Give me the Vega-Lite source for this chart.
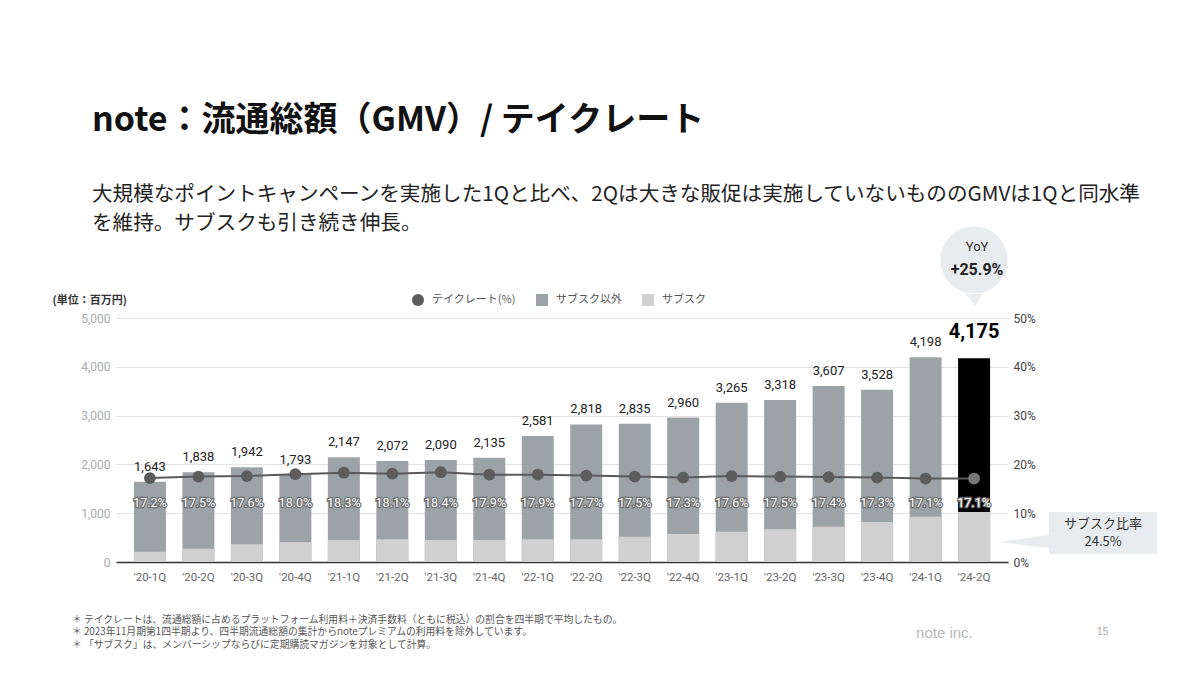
{
  "$schema": "https://vega.github.io/schema/vega-lite/v6.json",
  "width": 892,
  "height": 244,
  "autosize": {"type": "none"},
  "padding": {"left": 116, "top": 318, "right": 192, "bottom": 111},
  "background": "white",
  "title": {
    "text": "note：流通総額（GMV）/ テイクレート",
    "subtitle": [
      "大規模なポイントキャンペーンを実施した1Qと比べ、2Qは大きな販促は実施していないもののGMVは1Qと同水準",
      "を維持。サブスクも引き続き伸長。"
    ],
    "anchor": "start",
    "frame": "group",
    "dx": -24,
    "offset": -8,
    "font": "Noto Sans CJK JP",
    "fontSize": 34,
    "fontWeight": "bold",
    "color": "#111111",
    "subtitleFont": "Noto Sans CJK JP",
    "subtitleFontSize": 20.6,
    "subtitleColor": "#222222",
    "subtitleLineHeight": 29,
    "subtitlePadding": 47
  },
  "data": {
    "values": [
      {"q": "'20-1Q", "gmv": 1643, "sub": 211, "rate": 0.172},
      {"q": "'20-2Q", "gmv": 1838, "sub": 273, "rate": 0.175},
      {"q": "'20-3Q", "gmv": 1942, "sub": 363, "rate": 0.176},
      {"q": "'20-4Q", "gmv": 1793, "sub": 404, "rate": 0.180},
      {"q": "'21-1Q", "gmv": 2147, "sub": 451, "rate": 0.183},
      {"q": "'21-2Q", "gmv": 2072, "sub": 465, "rate": 0.181},
      {"q": "'21-3Q", "gmv": 2090, "sub": 451, "rate": 0.184},
      {"q": "'21-4Q", "gmv": 2135, "sub": 451, "rate": 0.179},
      {"q": "'22-1Q", "gmv": 2581, "sub": 465, "rate": 0.179},
      {"q": "'22-2Q", "gmv": 2818, "sub": 465, "rate": 0.177},
      {"q": "'22-3Q", "gmv": 2835, "sub": 519, "rate": 0.175},
      {"q": "'22-4Q", "gmv": 2960, "sub": 574, "rate": 0.173},
      {"q": "'23-1Q", "gmv": 3265, "sub": 622, "rate": 0.176},
      {"q": "'23-2Q", "gmv": 3318, "sub": 670, "rate": 0.175},
      {"q": "'23-3Q", "gmv": 3607, "sub": 724, "rate": 0.174},
      {"q": "'23-4Q", "gmv": 3528, "sub": 820, "rate": 0.173},
      {"q": "'24-1Q", "gmv": 4198, "sub": 929, "rate": 0.171},
      {"q": "'24-2Q", "gmv": 4175, "sub": 1023, "rate": 0.171}
    ]
  },
  "encoding": {
    "x": {
      "field": "q",
      "type": "ordinal",
      "sort": null,
      "scale": {"paddingInner": 0.34, "paddingOuter": 0.37},
      "axis": {
        "title": null,
        "labelAngle": 0,
        "labelColor": "#666666",
        "labelFontSize": 11.5,
        "labelFont": "Roboto",
        "labelPadding": 9,
        "ticks": false,
        "domainColor": "#333333",
        "domainWidth": 1.5,
        "grid": false
      }
    }
  },
  "layer": [
    {
      "layer": [
        {
          "mark": {"type": "bar"},
          "encoding": {
            "y": {
              "field": "gmv",
              "type": "quantitative",
              "scale": {"domain": [0, 5000], "nice": false},
              "axis": {
                "title": "(単位：百万円)",
                "titleAngle": 0,
                "titleAlign": "left",
                "titleBaseline": "middle",
                "titleX": -64,
                "titleY": -18,
                "titleFont": "Noto Sans CJK JP",
                "titleFontSize": 11,
                "titleFontWeight": "bold",
                "titleColor": "#333333",
                "values": [0, 1000, 2000, 3000, 4000, 5000],
                "format": ",.0f",
                "labelColor": "#aaaaaa",
                "labelFontSize": 12,
                "labelFont": "Roboto",
                "labelPadding": 6,
                "domain": false,
                "ticks": false,
                "grid": true,
                "gridColor": "#e2e2e2"
              }
            },
            "color": {
              "condition": {"test": "datum.q === \"'24-2Q\"", "value": "#000000"},
              "datum": "サブスク以外",
              "scale": {
                "domain": ["テイクレート(%)", "サブスク以外", "サブスク"],
                "range": ["#5c5c5c", "#9ba3a7", "#d0d0d0"]
              },
              "legend": {
                "title": null,
                "orient": "none",
                "legendX": 296,
                "legendY": -24,
                "direction": "horizontal",
                "padding": 0,
                "symbolType": "square",
                "symbolSize": 144,
                "symbolStrokeWidth": 0,
                "labelFont": "Noto Sans CJK JP",
                "labelFontSize": 11,
                "labelColor": "#555555",
                "labelOffset": 8,
                "columnPadding": 20,
                "encode": {
                  "symbols": {
                    "update": {
                      "shape": {"signal": "datum.value === 'テイクレート(%)' ? 'circle' : 'square'"}
                    }
                  }
                }
              }
            }
          }
        },
        {
          "mark": {"type": "bar"},
          "encoding": {
            "y": {"field": "sub", "type": "quantitative"},
            "color": {"datum": "サブスク"}
          }
        },
        {
          "transform": [{"filter": "datum.q !== \"'24-2Q\""}],
          "mark": {"type": "text", "baseline": "middle", "dy": -15, "font": "Roboto", "fontSize": 13, "color": "#222222"},
          "encoding": {
            "y": {"field": "gmv", "type": "quantitative"},
            "text": {"field": "gmv", "type": "quantitative", "format": ","}
          }
        },
        {
          "transform": [{"filter": "datum.q === \"'24-2Q\""}],
          "mark": {"type": "text", "baseline": "middle", "dy": -26, "font": "Roboto", "fontSize": 20, "fontWeight": "bold", "color": "#000000"},
          "encoding": {
            "y": {"field": "gmv", "type": "quantitative"},
            "text": {"field": "gmv", "type": "quantitative", "format": ","}
          }
        },
        {
          "mark": {"type": "text", "baseline": "middle", "font": "Roboto", "fontSize": 12.5, "color": "#707070", "stroke": "#707070", "strokeWidth": 2.5},
          "encoding": {
            "y": {"datum": 1200, "type": "quantitative"},
            "text": {"field": "rate", "type": "quantitative", "format": ".1%"}
          }
        },
        {
          "mark": {"type": "text", "baseline": "middle", "font": "Roboto", "fontSize": 12.5, "color": "#ffffff"},
          "encoding": {
            "y": {"datum": 1200, "type": "quantitative"},
            "text": {"field": "rate", "type": "quantitative", "format": ".1%"}
          }
        },
        {
          "transform": [{"filter": "datum.q === \"'24-2Q\""}],
          "mark": {"type": "point", "shape": "circle", "filled": true, "size": 4536, "color": "#e9ecee", "opacity": 1},
          "encoding": {"y": {"datum": 6189, "type": "quantitative"}}
        },
        {
          "transform": [{"filter": "datum.q === \"'24-2Q\""}],
          "mark": {"type": "point", "shape": "M-0.8,3.4 L0.8,3.4 L0.1,4.6 Z", "filled": true, "size": 400, "color": "#e9ecee", "opacity": 1},
          "encoding": {"y": {"datum": 6189, "type": "quantitative"}}
        },
        {
          "transform": [{"filter": "datum.q === \"'24-2Q\""}],
          "mark": {"type": "text", "baseline": "middle", "font": "Roboto", "fontSize": 13, "color": "#333333", "dx": 3},
          "encoding": {"y": {"datum": 6455, "type": "quantitative"}, "text": {"value": "YoY"}}
        },
        {
          "transform": [{"filter": "datum.q === \"'24-2Q\""}],
          "mark": {"type": "text", "baseline": "middle", "font": "Roboto", "fontSize": 16, "fontWeight": "bold", "color": "#222222", "dx": 3},
          "encoding": {"y": {"datum": 5984, "type": "quantitative"}, "text": {"value": "+25.9%"}}
        },
        {
          "transform": [{"filter": "datum.q === \"'24-2Q\""}],
          "mark": {"type": "point", "shape": "M7.5,-2.1 L18.3,-2.1 L18.3,2.1 L7.5,2.1 L7.5,1.5 L2.5,0.9 L7.5,0.2 Z", "filled": true, "size": 400, "color": "#e9ecee", "opacity": 1},
          "encoding": {"y": {"datum": 594, "type": "quantitative"}}
        },
        {
          "transform": [{"filter": "datum.q === \"'24-2Q\""}],
          "mark": {"type": "text", "baseline": "middle", "font": "Noto Sans CJK JP", "fontSize": 13, "color": "#333333", "dx": 129},
          "encoding": {"y": {"datum": 779, "type": "quantitative"}, "text": {"value": "サブスク比率"}}
        },
        {
          "transform": [{"filter": "datum.q === \"'24-2Q\""}],
          "mark": {"type": "text", "baseline": "middle", "font": "Noto Sans CJK JP", "fontSize": 13, "color": "#333333", "dx": 129},
          "encoding": {"y": {"datum": 410, "type": "quantitative"}, "text": {"value": "24.5%"}}
        },
        {
          "transform": [{"filter": "datum.q === \"'20-1Q\""}],
          "mark": {"type": "text", "align": "left", "baseline": "top", "font": "Noto Sans CJK JP", "fontSize": 9.8, "lineHeight": 12.5, "color": "#555555", "dx": -78},
          "encoding": {
            "y": {"datum": -1080, "type": "quantitative"},
            "text": {"value": [
              "＊ テイクレートは、流通総額に占めるプラットフォーム利用料＋決済手数料（ともに税込）の割合を四半期で平均したもの。",
              "＊ 2023年11月期第1四半期より、四半期流通総額の集計からnoteプレミアムの利用料を除外しています。",
              "＊ 「サブスク」は、メンバーシップならびに定期購読マガジンを対象として計算。"
            ]}
          }
        },
        {
          "transform": [{"filter": "datum.q === \"'24-2Q\""}],
          "mark": {"type": "text", "align": "left", "baseline": "middle", "font": "Liberation Sans", "fontSize": 15, "color": "#b8b8b8", "dx": -58},
          "encoding": {"y": {"datum": -1455, "type": "quantitative"}, "text": {"value": "note inc."}}
        },
        {
          "transform": [{"filter": "datum.q === \"'24-2Q\""}],
          "mark": {"type": "text", "align": "left", "baseline": "middle", "font": "Liberation Sans", "fontSize": 10, "color": "#aaaaaa", "dx": 123},
          "encoding": {"y": {"datum": -1434, "type": "quantitative"}, "text": {"value": "15"}}
        }
      ]
    },
    {
      "layer": [
        {
          "mark": {"type": "line", "color": "#5a5a5a", "strokeWidth": 2},
          "encoding": {
            "y": {
              "field": "rate",
              "type": "quantitative",
              "scale": {"domain": [0, 0.5], "nice": false},
              "axis": {
                "orient": "right",
                "title": null,
                "values": [0, 0.1, 0.2, 0.3, 0.4, 0.5],
                "format": ".0%",
                "labelColor": "#444444",
                "labelFontSize": 12,
                "labelFont": "Roboto",
                "labelPadding": 5,
                "domain": false,
                "ticks": false,
                "grid": false
              }
            }
          }
        },
        {
          "mark": {"type": "point", "filled": true, "size": 140, "opacity": 1},
          "encoding": {
            "y": {"field": "rate", "type": "quantitative"},
            "color": {
              "condition": {"test": "datum.q === \"'24-2Q\"", "value": "#777777"},
              "datum": "テイクレート(%)"
            }
          }
        }
      ]
    }
  ],
  "resolve": {"scale": {"y": "independent"}},
  "config": {
    "view": {"stroke": null},
    "font": "Noto Sans CJK JP"
  }
}
